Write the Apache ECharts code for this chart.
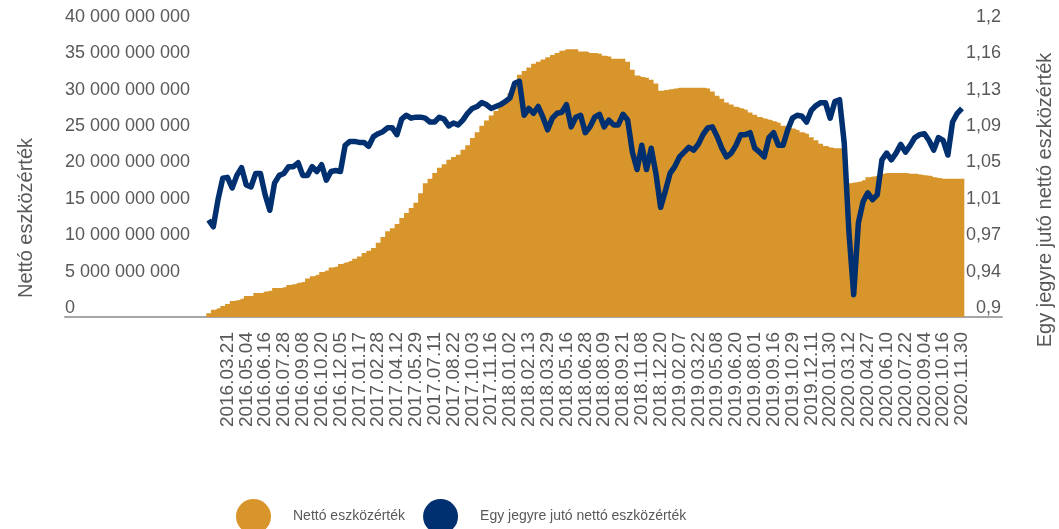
<!DOCTYPE html>
<html><head><meta charset="utf-8">
<script src="https://cdn.jsdelivr.net/npm/echarts@6/dist/echarts.min.js"></script>
<style>html,body{margin:0;padding:0;background:#fff}#c{width:1059px;height:529px}</style>
</head><body><div id="c"></div>
<script>
// Visible x tick labels (every 4th sampled point)
const tickLabels = ['2016.03.21','2016.05.04','2016.06.16','2016.07.28','2016.09.08','2016.10.20','2016.12.05','2017.01.17','2017.02.28','2017.04.12','2017.05.29','2017.07.11','2017.08.22','2017.10.03','2017.11.16','2018.01.02','2018.02.13','2018.03.29','2018.05.16','2018.06.28','2018.08.09','2018.09.21','2018.11.08','2018.12.20','2019.02.07','2019.03.22','2019.05.08','2019.06.20','2019.08.01','2019.09.16','2019.10.29','2019.12.11','2020.01.30','2020.03.12','2020.04.27','2020.06.10','2020.07.22','2020.09.04','2020.10.16','2020.11.30'];

// Nettó eszközérték (billion HUF), sampled
const netAssetsBn = [
 0.5,1.0,1.2,1.5,1.8,2.2,2.3,2.5,2.9,2.9,3.3,3.3,3.5,3.6,4.0,4.0,4.1,4.4,4.5,4.7,4.8,5.3,5.6,5.8,6.2,6.4,6.8,
 6.9,7.3,7.5,7.7,8.0,8.3,8.8,9.1,9.5,10.2,11.0,11.8,12.2,12.8,13.6,14.3,15.0,15.7,17.0,18.4,19.0,19.8,20.5,21.0,21.6,22.0,22.3,
 23.0,23.6,24.6,25.4,26.3,27.0,27.7,28.3,29.0,29.7,30.8,32.3,33.3,33.8,34.3,34.8,35.1,35.4,35.7,36.0,36.3,36.6,36.8,36.8,36.8,36.5,
 36.5,36.3,36.3,36.2,35.9,35.8,35.5,35.5,35.5,35.1,34.0,33.2,33.0,32.9,32.6,32.1,31.1,31.2,31.3,31.4,31.5,31.5,31.5,31.5,31.5,31.5,
 31.4,31.0,30.4,30.0,29.5,29.2,28.9,28.7,28.5,28.1,27.8,27.5,27.3,27.1,26.9,26.7,26.3,26.1,25.9,25.7,25.4,25.2,24.7,24.3,23.8,23.5,23.3,
 23.2,23.2,23.0,18.4,18.5,18.6,18.8,19.2,19.3,19.4,19.7,19.8,19.8,19.8,19.8,19.8,19.7,19.7,19.6,19.5,19.4,19.2,19.1,19.0,19.0,19.0,19.0,19.0
];

// Egy jegyre jutó nettó eszközérték, sampled
const unitNav = [
 1.000,0.993,1.021,1.043,1.044,1.033,1.046,1.054,1.036,1.034,1.048,1.048,1.026,1.010,1.038,1.046,1.048,1.055,1.055,1.059,1.046,1.046,1.055,1.050,1.057,1.041,1.050,
 1.051,1.050,1.077,1.081,1.081,1.080,1.080,1.076,1.086,1.089,1.091,1.095,1.095,1.088,1.104,1.108,1.105,1.106,1.106,1.105,1.101,1.101,1.106,1.104,1.097,1.100,1.098,
 1.103,1.110,1.115,1.117,1.121,1.119,1.115,1.117,1.119,1.122,1.126,1.141,1.143,1.108,1.115,1.110,1.117,1.106,1.093,1.105,1.110,1.111,1.119,1.096,1.106,1.108,
 1.090,1.096,1.106,1.109,1.096,1.103,1.098,1.098,1.109,1.103,1.070,1.052,1.077,1.052,1.074,1.048,1.013,1.030,1.048,1.055,1.065,1.070,1.075,1.072,1.078,1.088,
 1.095,1.096,1.086,1.074,1.065,1.069,1.077,1.088,1.088,1.090,1.074,1.070,1.065,1.085,1.090,1.077,1.077,1.093,1.105,1.108,1.107,1.101,1.113,1.118,1.121,1.121,1.105,
 1.122,1.124,1.079,0.987,0.923,0.997,1.019,1.028,1.021,1.026,1.062,1.069,1.062,1.069,1.078,1.070,1.077,1.085,1.088,1.089,1.082,1.072,1.085,1.082,1.067,1.101,1.110,1.115
];

const rightTickLabels = ['0,9','0,94','0,97','1,01','1,05','1,09','1,13','1,16','1,2'];
const seriesNames = ['Nettó eszközérték','Egy jegyre jutó nettó eszközérték'];
const leftTitle = 'Nettó eszközérték';
const rightTitle = 'Egy jegyre jutó nettó eszközérték';

const GOLD = '#D8952B', NAVY = '#00306F', TXT = '#595959';
const FONT = "'Liberation Sans', Arial, sans-serif";

const LEAD = 30, TRAIL = 8, STEP = 4;
const categories = [];
for (let i = 0; i < LEAD; i++) categories.push('');
for (let i = 0; i < netAssetsBn.length; i++) categories.push(i > 0 && i % STEP === 0 ? tickLabels[i / STEP - 1] : '');
for (let i = 0; i < TRAIL; i++) categories.push('');
const pad = arr => [].concat(new Array(LEAD).fill(null), arr, new Array(TRAIL).fill(null));

const chart = echarts.init(document.getElementById('c'), null, {renderer: 'canvas'});
chart.setOption({
  animation: false,
  backgroundColor: '#fff',
  grid: {left: 65, right: 57, top: 26, bottom: 212, containLabel: false},
  legend: {
    left: 231, top: 494, icon: 'circle', itemWidth: 35, itemHeight: 35, itemGap: 18,
    data: seriesNames,
    textStyle: {fontSize: 14, color: TXT, fontFamily: FONT, padding: [0, 0, 0, 17]}
  },
  xAxis: {
    type: 'category', data: categories, boundaryGap: true,
    axisLine: {show: true, lineStyle: {color: '#A6A6A6', width: 2}},
    axisTick: {show: false},
    splitLine: {show: false},
    axisLabel: {interval: (idx, val) => val !== '', rotate: 90, margin: 15, fontSize: 19, color: TXT, fontFamily: FONT}
  },
  yAxis: [
    {
      type: 'value', min: 0, max: 40, interval: 5,
      axisLine: {show: false}, axisTick: {show: false}, splitLine: {show: false},
      axisLabel: {inside: true, margin: 0, verticalAlign: 'bottom', fontSize: 18, color: TXT, fontFamily: FONT,
        formatter: v => v === 0 ? '0' : v + ' 000 000 000'}
    },
    {
      type: 'value', position: 'right', min: 0.9, max: 1.2, interval: 0.0375,
      axisLine: {show: false}, axisTick: {show: false}, splitLine: {show: false},
      axisLabel: {inside: true, margin: 1, verticalAlign: 'bottom', fontSize: 18, color: TXT, fontFamily: FONT,
        formatter: v => rightTickLabels[Math.round((v - 0.9) / 0.0375)]}
    }
  ],
  graphic: [
    {type: 'text', x: 26, y: 218, rotation: Math.PI / 2,
      style: {text: leftTitle, fill: TXT, fontSize: 20, fontFamily: FONT, align: 'center', verticalAlign: 'middle', textAlign: 'center', textVerticalAlign: 'middle'}},
    {type: 'text', x: 1045, y: 200, rotation: Math.PI / 2,
      style: {text: rightTitle, fill: TXT, fontSize: 20, fontFamily: FONT, align: 'center', verticalAlign: 'middle', textAlign: 'center', textVerticalAlign: 'middle'}}
  ],
  series: [
    {
      name: seriesNames[0], type: 'line', step: 'middle', yAxisIndex: 0, data: pad(netAssetsBn),
      symbol: 'none', showSymbol: false, silent: true,
      lineStyle: {width: 0, color: GOLD}, itemStyle: {color: GOLD},
      areaStyle: {color: GOLD, opacity: 1}, z: 1
    },
    {
      name: seriesNames[1], type: 'line', yAxisIndex: 1, data: pad(unitNav),
      symbol: 'none', showSymbol: false, silent: true,
      lineStyle: {width: 5.5, color: NAVY, join: 'round'}, itemStyle: {color: NAVY}, z: 3
    }
  ]
});
</script>
</body></html>
